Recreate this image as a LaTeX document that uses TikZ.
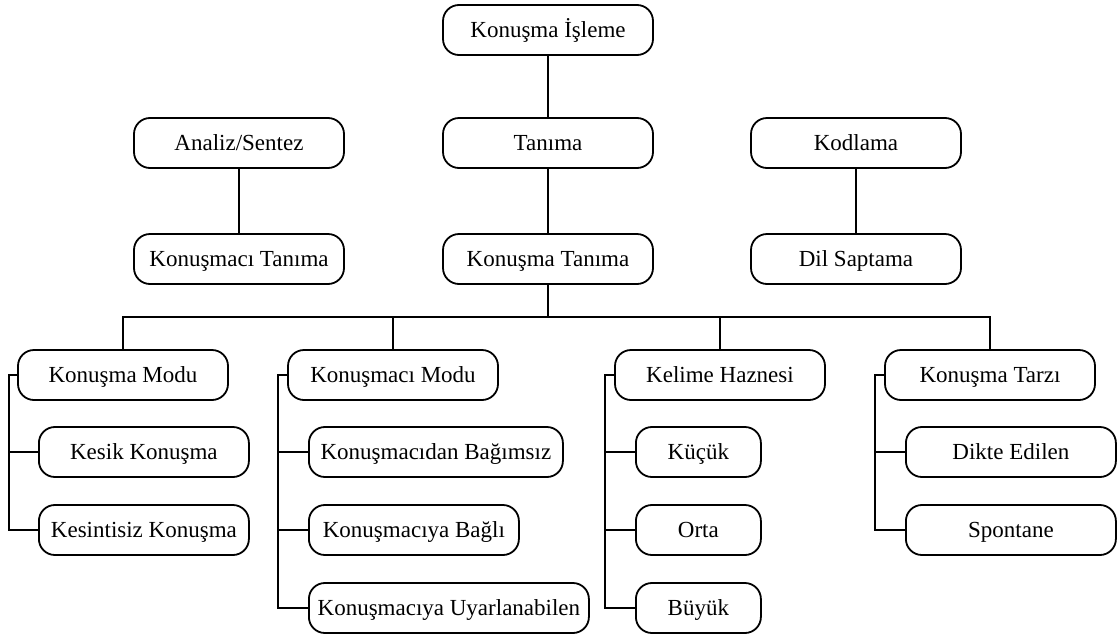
\documentclass[tikz,border=0pt]{standalone}
\usepackage{fontspec}
\setmainfont{Liberation Serif}
\begin{document}
\begin{tikzpicture}[x=1pt,y=-1pt,
  box/.style={draw, line width=1.8pt, rounded corners=16pt, minimum height=50pt,
    inner sep=0pt, text height=15pt, text depth=0pt, align=center,
    font=\fontsize{23}{27}\selectfont},
  wbox/.style={box, minimum width=210pt},
  lbox/.style={box, anchor=west},
  link/.style={line width=1.8pt}]
\useasboundingbox (0,0) rectangle (1117,635);

% upper tiers
\node[wbox] (ki)  at (548,30)  {Konuşma İşleme};
\node[wbox] (as)  at (239,143) {Analiz/Sentez};
\node[wbox] (tan) at (548,143) {Tanıma};
\node[wbox] (kod) at (856,143) {Kodlama};
\node[wbox] (kt)  at (239,259) {Konuşmacı Tanıma};
\node[wbox] (kon) at (548,259) {Konuşma Tanıma};
\node[wbox] (ds)  at (856,259) {Dil Saptama};

% category heads
\node[wbox] (km)  at (123,375) {Konuşma Modu};
\node[wbox] (kmo) at (393,375) {Konuşmacı Modu};
\node[wbox] (kh)  at (720,375) {Kelime Haznesi};
\node[wbox] (kta) at (990,375) {Konuşma Tarzı};

% leaves
\node[lbox, minimum width=210pt] (ks)  at (38,452)  {Kesik Konuşma};
\node[lbox, minimum width=210pt] (ksz) at (38,530)  {Kesintisiz Konuşma};
\node[lbox, minimum width=254pt] (kb)  at (308,452) {Konuşmacıdan Bağımsız};
\node[lbox, minimum width=210pt] (kbg) at (308,530) {Konuşmacıya Bağlı};
\node[lbox, minimum width=280pt] (ku)  at (308,608) {Konuşmacıya Uyarlanabilen};
\node[lbox, minimum width=125pt] (kc)  at (635,452) {Küçük};
\node[lbox, minimum width=125pt] (or)  at (635,530) {Orta};
\node[lbox, minimum width=125pt] (bu)  at (635,608) {Büyük};
\node[lbox, minimum width=210pt] (de)  at (905,452) {Dikte Edilen};
\node[lbox, minimum width=210pt] (sp)  at (905,530) {Spontane};

% vertical links
\draw[link] (ki) -- (tan);
\draw[link] (tan) -- (kon);
\draw[link] (as) -- (kt);
\draw[link] (kod) -- (ds);

% bus under Konuşma Tanıma
\coordinate (bus) at (548,317);
\draw[link] (kon.south) -- (bus);
\draw[link] (km.north) |- (bus);
\draw[link] (kta.north) |- (bus);
\draw[link] (kmo.north) -- (kmo.north |- bus);
\draw[link] (kh.north) -- (kh.north |- bus);

% side rails
\draw[link] (km.west) -- ++(-8,0) |- (ksz.west);
\draw[link] (km.west) ++(-8,0) |- (ks.west);

\draw[link] (kmo.west) -- ++(-9,0) |- (ku.west);
\draw[link] (kmo.west) ++(-9,0) |- (kb.west);
\draw[link] (kmo.west) ++(-9,0) |- (kbg.west);

\draw[link] (kh.west) -- ++(-9,0) |- (bu.west);
\draw[link] (kh.west) ++(-9,0) |- (kc.west);
\draw[link] (kh.west) ++(-9,0) |- (or.west);

\draw[link] (kta.west) -- ++(-9,0) |- (sp.west);
\draw[link] (kta.west) ++(-9,0) |- (de.west);
\end{tikzpicture}
\end{document}
